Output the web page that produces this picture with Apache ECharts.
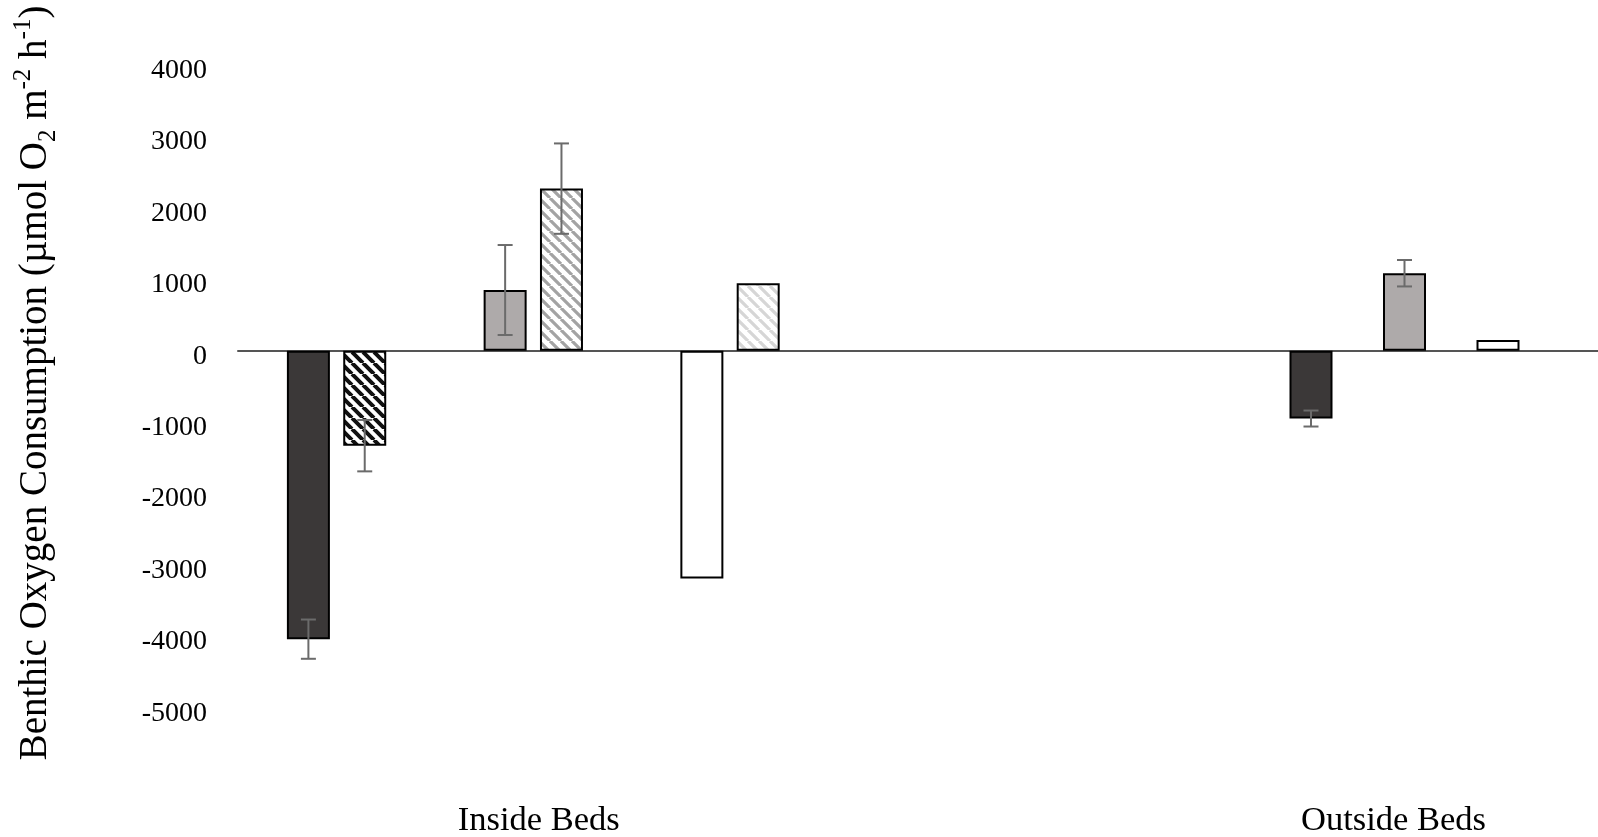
<!DOCTYPE html>
<html>
<head>
<meta charset="utf-8">
<title>Benthic Oxygen Consumption</title>
<script src="https://cdn.jsdelivr.net/npm/echarts@6/dist/echarts.min.js"></script>
<style>
  html, body { margin: 0; padding: 0; background: #fff; }
  #chart { width: 1598px; height: 837px; }
</style>
</head>
<body>
<div id="chart"></div>
<script>
// ---- data (µmol O2 m-2 h-1) ----
// three treatment groups per location; solid and hatched bars per group
const groupKeys = ['g1', 'g2', 'g3'];
const regionLabels = ['Inside Beds', 'Outside Beds'];

const insideSolid = [-4040, 850, -3190];
const insideSolidErr = [275, 630, 0];
const insideHatched = [-1330, 2270, 945];
const insideHatchedErr = [360, 633, 0];

const outsideSolid = [-950, 1085, 150];
const outsideSolidErr = [112, 185, 0];

const yMin = -5000;
const yMax = 4000;
const yStep = 1000;

// ---- styles ----
const SERIF = "'Liberation Serif', 'Times New Roman', serif";
const DARK = '#3b3838';
const GRAY = '#aeaaaa';
const WHITE = '#ffffff';
const ERR_COLOR = '#6b6b6b';
const BAR_W = 43;
const BAR_GAP = 0.31;
const PAIR_OFFSET = BAR_W * (1 + BAR_GAP) / 2;

// diagonal (top-left to bottom-right) hatch tile
function hatch(bg, stroke, lw) {
  const s = 11;
  const c = document.createElement('canvas');
  c.width = s; c.height = s;
  const g = c.getContext('2d');
  g.fillStyle = bg;
  g.fillRect(0, 0, s, s);
  g.strokeStyle = stroke;
  g.lineWidth = lw;
  g.beginPath();
  [-s, 0, s].forEach(function (k) {
    g.moveTo(k, 0);
    g.lineTo(k + s, s);
  });
  g.stroke();
  return { image: c, repeat: 'repeat' };
}

const solidFills = [DARK, GRAY, WHITE];
const hatchFills = [
  hatch('#ffffff', '#111111', 4),
  hatch('#ffffff', '#a3a3a3', 3.2),
  hatch('#ffffff', '#d6d6d6', 3.2)
];

function withFills(values, fills) {
  return values.map(function (v, i) {
    return { value: v, itemStyle: { color: fills[i] } };
  });
}

function errData(values, errs) {
  return values.map(function (v, i) { return [i, v, errs[i]]; });
}

function errRender(offset) {
  return function (params, api) {
    const err = api.value(2);
    if (!err) return null;
    const v = api.value(1);
    const hi = api.coord([api.value(0), v + err]);
    const lo = api.coord([api.value(0), v - err]);
    const x = hi[0] + offset;
    const cap = 7.5;
    const st = { stroke: ERR_COLOR, lineWidth: 2 };
    return {
      type: 'group',
      children: [
        { type: 'line', shape: { x1: x, y1: hi[1], x2: x, y2: lo[1] }, style: st },
        { type: 'line', shape: { x1: x - cap, y1: hi[1], x2: x + cap, y2: hi[1] }, style: st },
        { type: 'line', shape: { x1: x - cap, y1: lo[1], x2: x + cap, y2: lo[1] }, style: st }
      ]
    };
  };
}

const PLOT_TOP = 65.1;
const PLOT_H = 642.6;

function grid(left, width) {
  return {
    left: left, width: width, top: PLOT_TOP, height: PLOT_H,
    containLabel: false, outerBoundsMode: 'none'
  };
}

function valueAxis(gridIndex, visible) {
  return {
    type: 'value', gridIndex: gridIndex, min: yMin, max: yMax, interval: yStep,
    show: visible,
    axisLine: { show: false },
    axisTick: { show: false },
    splitLine: { show: false },
    axisLabel: {
      show: visible, margin: 31, color: '#000',
      fontFamily: SERIF, fontSize: 28,
      verticalAlign: 'top', lineHeight: 11,
      formatter: function (v) { return String(v); }
    }
  };
}

const baseBar = {
  type: 'bar',
  barWidth: BAR_W,
  barGap: (BAR_GAP * 100) + '%',
  itemStyle: { borderColor: '#000', borderWidth: 2 },
  z: 2
};

const chart = echarts.init(document.getElementById('chart'), null, { renderer: 'canvas' });

chart.setOption({
  backgroundColor: '#fff',
  animation: false,
  grid: [
    grid(238, 1360),        // frame: y labels and zero line
    grid(238.2, 590.2),     // inside beds
    grid(1264.25, 280.5),   // outside beds
    grid(111.3, 1709.6)     // location labels
  ],
  xAxis: [
    {
      type: 'category', gridIndex: 0, data: [''],
      axisLine: { show: true, onZero: true, lineStyle: { color: '#555555', width: 2 } },
      axisTick: { show: false }, axisLabel: { show: false }
    },
    { type: 'category', gridIndex: 1, data: groupKeys, show: false },
    { type: 'category', gridIndex: 2, data: groupKeys, show: false },
    {
      type: 'category', gridIndex: 3, data: regionLabels, position: 'bottom',
      axisLine: { show: false, onZero: false }, axisTick: { show: false },
      axisLabel: { margin: 96, color: '#000', fontFamily: SERIF, fontSize: 34.5 }
    }
  ],
  yAxis: [
    valueAxis(0, true),
    valueAxis(1, false),
    valueAxis(2, false),
    valueAxis(3, false)
  ],
  graphic: [{
    type: 'text',
    x: 36, y: 383,
    rotation: Math.PI / 2,
    style: {
      text: '{t|Benthic Oxygen Consumption (µmol O}{sub|2}{t| m}{sup|-2}{t| h}{sup|-1}{t|)}',
      align: 'center',
      verticalAlign: 'middle',
      rich: {
        t: { fontFamily: SERIF, fontSize: 39, lineHeight: 50, fill: '#000', verticalAlign: 'middle' },
        sub: { fontFamily: SERIF, fontSize: 25, lineHeight: 33, fill: '#000', verticalAlign: 'bottom' },
        sup: { fontFamily: SERIF, fontSize: 25, lineHeight: 29, fill: '#000', verticalAlign: 'top' }
      }
    }
  }],
  series: [
    Object.assign({}, baseBar, {
      name: 'inside solid', xAxisIndex: 1, yAxisIndex: 1,
      data: withFills(insideSolid, solidFills)
    }),
    Object.assign({}, baseBar, {
      name: 'inside hatched', xAxisIndex: 1, yAxisIndex: 1,
      data: withFills(insideHatched, hatchFills)
    }),
    Object.assign({}, baseBar, {
      name: 'outside solid', xAxisIndex: 2, yAxisIndex: 2,
      data: withFills(outsideSolid, solidFills)
    }),
    {
      type: 'custom', name: 'inside solid error', xAxisIndex: 1, yAxisIndex: 1, z: 5,
      renderItem: errRender(-PAIR_OFFSET), encode: { x: 0, y: 1 },
      data: errData(insideSolid, insideSolidErr), silent: true
    },
    {
      type: 'custom', name: 'inside hatched error', xAxisIndex: 1, yAxisIndex: 1, z: 5,
      renderItem: errRender(PAIR_OFFSET), encode: { x: 0, y: 1 },
      data: errData(insideHatched, insideHatchedErr), silent: true
    },
    {
      type: 'custom', name: 'outside solid error', xAxisIndex: 2, yAxisIndex: 2, z: 5,
      renderItem: errRender(0), encode: { x: 0, y: 1 },
      data: errData(outsideSolid, outsideSolidErr), silent: true
    }
  ]
});
</script>
</body>
</html>
